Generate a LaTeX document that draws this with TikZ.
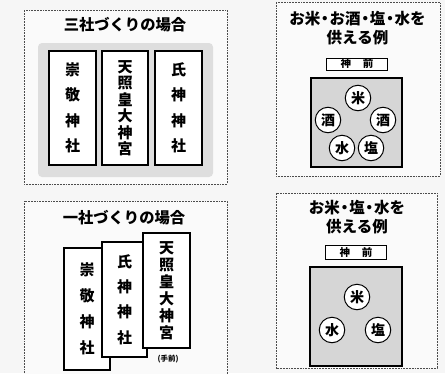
\documentclass[tikz,border=0pt]{standalone}
\usepackage{fontspec}
\setmainfont{Noto Sans CJK JP}
\newcommand{\ndot}{\makebox[0.6em]{・}}
\begin{document}
\begin{tikzpicture}[x=1pt,y=-1pt,
  panel/.style={draw=black!70, dash pattern=on 1.8pt off 1pt, line width=0.8pt},
  title/.style={font=\fontsize{15.3}{17}\selectfont\bfseries, inner sep=0pt},
  tablet/.style={draw=black, line width=1.1pt, fill=white, inner sep=0pt, align=center},
  fourch/.style={font=\fontsize{15}{25.5}\selectfont\bfseries},
  sixch/.style={font=\fontsize{15}{16.5}\selectfont\bfseries},
  altar/.style={draw=black, line width=1.1pt, fill=gray!32},
  shinzen/.style={draw=black, line width=1pt, fill=white, inner sep=0pt, minimum width=61pt, font=\fontsize{10.5}{11}\selectfont\bfseries},
  offer/.style={circle, draw=black, line width=1pt, fill=white, minimum size=25.5pt, inner sep=0pt, font=\fontsize{14}{14}\selectfont\bfseries}]
\useasboundingbox (0,0) rectangle (445,373);
\fill[gray!7] (0,0) rectangle (445,373);

% ---------- top-left panel ----------
\draw[panel, fill=gray!4] (24,10) rectangle (227,184);
\node[title] (tlt) at (125,25) {三社づくりの場合};
\fill[gray!26, rounded corners=4pt] (38,43) rectangle (213,177);
\node[tablet, fourch, minimum width=47pt, minimum height=114pt] (ta) at (72.5,108) {崇\\敬\\神\\社};
\node[tablet, sixch, minimum width=46pt, minimum height=114pt] (tb) at (125,108) {天\\照\\皇\\大\\神\\宮};
\node[tablet, fourch, minimum width=47pt, minimum height=114pt] (tc) at (178.5,108) {氏\\神\\神\\社};

% ---------- bottom-left panel ----------
\fill[gray!4] (24,201) rectangle (227,376);
\draw[panel] (24,376) -- (24,201) -- (227,201) -- (227,376);
\node[title] (blt) at (124,218) {一社づくりの場合};
\node[tablet, font=\fontsize{15}{26}\selectfont\bfseries, minimum width=46pt, minimum height=122pt] (ba) at (87,309) {崇\\敬\\神\\社};
\node[tablet, font=\fontsize{15}{25.3}\selectfont\bfseries, minimum width=45pt, minimum height=115pt] (bb) at (124.5,299.5) {氏\\神\\神\\社};
\node[tablet, font=\fontsize{15}{17}\selectfont\bfseries, minimum width=47pt, minimum height=115pt] (bc) at (166.5,290.5) {天\\照\\皇\\大\\神\\宮};
\node[font=\fontsize{7.5}{8}\selectfont\bfseries, inner sep=0pt] (front) at (168,359) {(手前)};

% ---------- top-right panel ----------
\draw[panel, fill=gray!4] (276,2) rectangle (440,176);
\node[title, align=center, font=\fontsize{15.5}{18.5}\selectfont\bfseries] (trt) at (357.5,28) {お米\ndot お酒\ndot 塩\ndot 水を\\供える例};
\node[shinzen, minimum height=12pt] (trs) at (357,64) {神\hspace{12pt}前};
\draw[altar] (311,78) rectangle (402,167);
\node[offer] (r1) at (358,98) {米};
\node[offer] (r2) at (328,120) {酒};
\node[offer] (r3) at (383,120) {酒};
\node[offer] (r4) at (342,148) {水};
\node[offer] (r5) at (371,148) {塩};

% ---------- bottom-right panel ----------
\draw[panel, fill=gray!4] (276,193) rectangle (437,368);
\node[title, align=center, font=\fontsize{15.5}{19}\selectfont\bfseries] (brt) at (357,217.5) {お米\ndot 塩\ndot 水を\\供える例};
\node[shinzen, minimum height=14pt] (brs) at (356,252.5) {神\hspace{12pt}前};
\draw[altar] (310,267) rectangle (402,366);
\node[offer] (s1) at (357,297) {米};
\node[offer] (s2) at (332,330) {水};
\node[offer] (s3) at (378,330) {塩};
\end{tikzpicture}
\end{document}
